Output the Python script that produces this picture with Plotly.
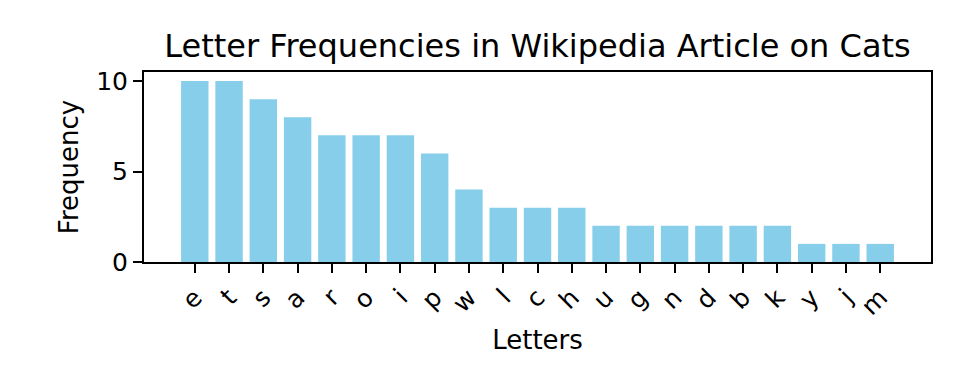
import plotly.graph_objects as go

letters = ["e", "t", "s", "a", "r", "o", "i", "p", "w", "l", "c", "h",
           "u", "g", "n", "d", "b", "k", "y", "j", "m"]
freqs = [10, 10, 9, 8, 7, 7, 7, 6, 4, 3, 3, 3, 2, 2, 2, 2, 2, 2, 1, 1, 1]

FONT = "DejaVu Sans"

fig = go.Figure(go.Bar(
    x=list(range(len(letters))), y=freqs, width=0.8,
    marker=dict(color="#87CEEB", line=dict(width=0)),
))

axis_common = dict(
    showline=True, linecolor="black", linewidth=2, mirror=True,
    ticks="outside", ticklen=9, tickwidth=2, tickcolor="black",
    showgrid=False, zeroline=False,
    tickfont=dict(family=FONT, size=25, color="black"),
)

n = len(letters)
fig.update_layout(
    width=960, height=384,
    margin=dict(l=144, r=29, t=72, b=122),
    paper_bgcolor="white", plot_bgcolor="white",
    showlegend=False,
    title=dict(text="Letter Frequencies in Wikipedia Article on Cats",
               font=dict(family=FONT, size=32, color="black"),
               x=0.5, xref="paper", xanchor="center",
               y=1 - 46 / 384, yanchor="middle"),
    xaxis=dict(**axis_common, range=[-0.4 - 0.052 * (n - 0.2), n - 0.6 + 0.052 * (n - 0.2)],
               tickmode="array", tickvals=list(range(n)), ticktext=letters,
               tickangle=-45,
               title=dict(text="Letters", font=dict(family=FONT, size=26, color="black"),
                          standoff=11)),
    yaxis=dict(**axis_common, range=[0, 10.5], tickvals=[0, 5, 10],
               title=dict(text="Frequency", font=dict(family=FONT, size=26, color="black"),
                          standoff=10)),
)

fig.write_html("out.html", config={"displayModeBar": False},
               post_script="document.body.style.margin='0';")
